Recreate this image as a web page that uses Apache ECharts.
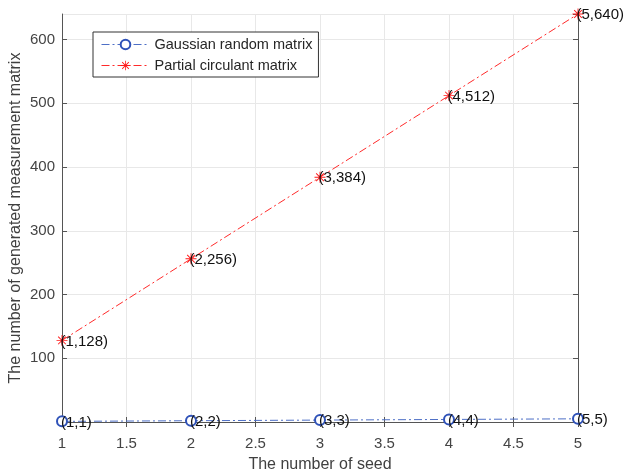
<!DOCTYPE html>
<html>
<head>
<meta charset="utf-8">
<script src="https://cdn.jsdelivr.net/npm/echarts@6/dist/echarts.min.js"></script>
<style>
  html, body { margin: 0; padding: 0; background: #fff; }
  #chart { width: 626px; height: 476px; }
</style>
</head>
<body>
<div id="chart"></div>
<script>
// data
var seeds = [1, 2, 3, 4, 5];
var gaussian = [1, 2, 3, 4, 5];
var circulant = [128, 256, 384, 512, 640];
var xTicks = [1, 1.5, 2, 2.5, 3, 3.5, 4, 4.5, 5];
var yTicks = [100, 200, 300, 400, 500, 600];

var FONT = 'Liberation Sans';
var AXIS = '#555';
// matlab style asterisk marker
var STAR = 'path://M9.2 0L10.8 0L10.8 20L9.2 20Z M0 9.2L20 9.2L20 10.8L0 10.8Z M2.4 3.6L3.6 2.4L17.6 16.4L16.4 17.6Z M16.4 2.4L17.6 3.6L3.6 17.6L2.4 16.4Z';

function pairs(xs, ys) {
  return xs.map(function (x, i) { return [x, ys[i]]; });
}

function pointLabel(p) {
  return '(' + p.value[0] + ',' + p.value[1] + ')';
}

var chart = echarts.init(document.getElementById('chart'));
chart.setOption({
  animation: false,
  grid: { left: 62, right: 48, top: 14, bottom: 54, show: false, containLabel: false, outerBoundsMode: 'none' },
  legend: {
    left: 93, top: 32,
    orient: 'vertical',
    itemWidth: 48, itemHeight: 12, itemGap: 6,
    padding: [5, 6, 4, 8],
    borderColor: '#333', borderWidth: 1, backgroundColor: '#fff',
    textStyle: { fontFamily: FONT, fontSize: 14.5, color: '#262626' },
    itemStyle: { borderWidth: 1 },
    lineStyle: { width: 1 },
    data: ['Gaussian random matrix', 'Partial circulant matrix']
  },
  xAxis: [{
    type: 'value', min: 1, max: 5, interval: 0.5,
    name: 'The number of seed', nameLocation: 'middle', nameGap: 35,
    nameTextStyle: { fontFamily: FONT, fontSize: 16, color: '#404040' },
    axisLine: { lineStyle: { color: AXIS } },
    axisTick: { inside: true, length: 5, lineStyle: { color: AXIS } },
    axisLabel: { fontFamily: FONT, fontSize: 15, color: '#444', margin: 14,
      formatter: function (v) { return xTicks.indexOf(v) >= 0 ? String(v) : ''; } },
    splitLine: { show: true, lineStyle: { color: '#e8e8e8' } }
  }, {
    type: 'value', position: 'top', min: 1, max: 5, interval: 0.5,
    axisLine: { show: true, lineStyle: { color: AXIS } },
    axisTick: { inside: true, length: 5, lineStyle: { color: AXIS } },
    axisLabel: { show: false }, splitLine: { show: false }
  }],
  yAxis: [{
    type: 'value', min: 0, max: 640, interval: 100,
    name: 'The number of generated measurement matrix', nameLocation: 'middle', nameGap: 38,
    nameMoveOverlap: false,
    nameTextStyle: { fontFamily: FONT, fontSize: 16, color: '#404040' },
    axisLine: { show: true, lineStyle: { color: AXIS } },
    axisTick: { inside: true, length: 5, lineStyle: { color: AXIS } },
    axisLabel: {
      fontFamily: FONT, fontSize: 15, color: '#444', margin: 7,
      showMaxLabel: false,
      formatter: function (v) { return yTicks.indexOf(v) >= 0 ? String(v) : ''; }
    },
    splitLine: { show: true, lineStyle: { color: '#e8e8e8' } }
  }, {
    type: 'value', position: 'right', min: 0, max: 640, interval: 100,
    axisLine: { show: true, lineStyle: { color: AXIS } },
    axisTick: { inside: true, length: 5, lineStyle: { color: AXIS } },
    axisLabel: { show: false }, splitLine: { show: false }
  }],
  series: [{
    name: 'Gaussian random matrix',
    type: 'line',
    data: pairs(seeds, gaussian),
    symbol: 'emptyCircle', symbolSize: 10,
    itemStyle: { color: '#2f52b8', borderWidth: 1 },
    lineStyle: { color: '#4d6fc6', width: 1, type: [8, 3, 2, 3] },
    label: {
      show: true, position: 'right', distance: 0, offset: [-7, 1],
      fontFamily: FONT, fontSize: 15, color: '#111',
      formatter: pointLabel
    },
    z: 3
  }, {
    name: 'Partial circulant matrix',
    type: 'line',
    data: pairs(seeds, circulant),
    symbol: STAR, symbolSize: 11,
    itemStyle: { color: '#ff1a1a' },
    lineStyle: { color: '#ff2a2a', width: 1, type: [8, 3, 2, 3] },
    label: {
      show: true, position: 'right', distance: 0, offset: [-7, 1],
      fontFamily: FONT, fontSize: 15, color: '#111',
      formatter: pointLabel
    },
    z: 3
  }]
});
</script>
</body>
</html>
